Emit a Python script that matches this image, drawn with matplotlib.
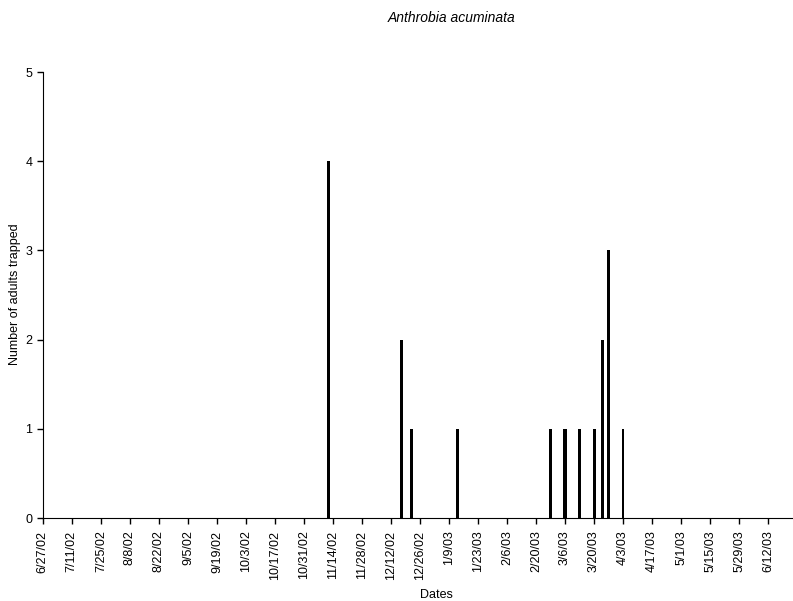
import matplotlib
matplotlib.use('Agg')
import matplotlib.pyplot as plt
import matplotlib.dates as mdates
from datetime import date, timedelta

# Fångstdatum och antal vuxna individer
trap_dates = [date(2002, 11, 12), date(2002, 12, 17), date(2002, 12, 22),
              date(2003, 1, 13), date(2003, 2, 27), date(2003, 3, 6),
              date(2003, 3, 13), date(2003, 3, 20), date(2003, 3, 24),
              date(2003, 3, 27), date(2003, 4, 3)]
adults = [4, 2, 1, 1, 1, 1, 1, 1, 2, 3, 1]
bar_widths = [1.5, 1.5, 1.5, 1.5, 1.5, 1.5, 1.5, 1.5, 1.5, 1.5, 0.8]

# Tickmarkeringar varannan vecka
tick_labels = ['6/27/02', '7/11/02', '7/25/02', '8/8/02', '8/22/02', '9/5/02',
               '9/19/02', '10/3/02', '10/17/02', '10/31/02', '11/14/02',
               '11/28/02', '12/12/02', '12/26/02', '1/9/03', '1/23/03',
               '2/6/03', '2/20/03', '3/6/03', '3/20/03', '4/3/03', '4/17/03',
               '5/1/03', '5/15/03', '5/29/03', '6/12/03']

start = date(2002, 6, 27)
tick_dates = [start + timedelta(days=14 * i) for i in range(len(tick_labels))]

plt.rcParams['font.family'] = ['Liberation Sans', 'DejaVu Sans']

fig = plt.figure(figsize=(7.93, 6.01), dpi=100)
ax = fig.add_axes([0.054, 0.138, 0.946, 0.742])

ax.bar(trap_dates, adults, width=bar_widths, color='black', align='center')

ax.set_xlim(mdates.date2num(start), mdates.date2num(date(2003, 6, 24)))
ax.set_ylim(0, 5)
ax.set_yticks(range(0, 6))

ax.set_xticks(tick_dates)
ax.set_xticklabels(tick_labels, rotation=90, fontsize=9)
ax.tick_params(axis='y', labelsize=9)
ax.tick_params(axis='x', pad=5)
ax.tick_params(direction='out', length=4, width=1)

ax.spines['top'].set_visible(False)
ax.spines['right'].set_visible(False)

fig.text(0.019, 0.51, 'Number of adults trapped', fontsize=9, rotation=90,
         ha='center', va='center')
fig.text(0.55, 0.01, 'Dates', fontsize=9, ha='center', va='center')
fig.text(0.57, 0.97, 'Anthrobia acuminata', fontsize=10, style='italic',
         ha='center', va='center')

fig.savefig('out.png', dpi=100)
